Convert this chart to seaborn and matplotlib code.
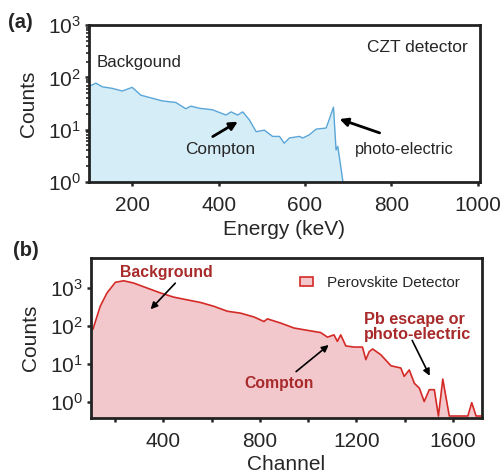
import numpy as np
import pandas as pd
import matplotlib
matplotlib.use("Agg")
import matplotlib.pyplot as plt
import seaborn as sns
from matplotlib.ticker import LogLocator, MultipleLocator, NullFormatter
from matplotlib.patches import Patch

# ---- data: panel (a) CZT detector ----
czt_energy = [100, 116, 131, 154, 177, 200, 220, 247, 270, 301, 324, 336, 355, 386,
              417, 429, 444, 456, 471, 487, 506, 525, 541, 552, 564, 587, 595, 610,
              626, 649, 656, 666, 672, 676, 688]
czt_log_counts = [1.83, 1.89, 1.82, 1.79, 1.74, 1.81, 1.66, 1.60, 1.55, 1.52, 1.40, 1.45,
                  1.41, 1.38, 1.28, 1.34, 1.28, 1.34, 1.19, 0.96, 0.99, 0.87, 0.87, 0.74,
                  0.84, 0.87, 0.84, 0.90, 1.01, 1.03, 1.19, 1.43, 0.61, 0.68, 0.0]
czt_counts = [10 ** v for v in czt_log_counts]

# ---- data: panel (b) Perovskite detector ----
pv_channel = [100, 108, 138, 166, 201, 235, 277, 332, 388, 443, 498, 554, 609, 665, 720,
              775, 817, 831, 886, 941, 996, 1052, 1080, 1107, 1121, 1135, 1156, 1190,
              1225, 1239, 1253, 1267, 1301, 1343, 1384, 1398, 1419, 1440, 1461, 1481,
              1502, 1523, 1540, 1558, 1585, 1662, 1678, 1696, 1720]
pv_log_counts = [1.90, 1.91, 2.51, 2.86, 3.14, 3.18, 3.12, 2.99, 2.86, 2.75, 2.68, 2.61,
                 2.51, 2.38, 2.33, 2.23, 2.11, 2.18, 2.07, 1.94, 1.88, 1.82, 1.70, 1.76,
                 1.59, 1.76, 1.47, 1.44, 1.44, 1.11, 1.32, 1.39, 1.24, 0.95, 0.89, 0.67,
                 0.84, 0.49, 0.36, 0.01, 0.32, 0.32, -0.37, 0.60, -0.37, -0.37, -0.02,
                 -0.37, -0.37]
pv_counts = [10 ** v for v in pv_log_counts]

sns.set_style("ticks")
plt.rcParams['font.family'] = ['Liberation Sans', 'DejaVu Sans']
plt.rcParams['mathtext.fontset'] = 'custom'
plt.rcParams['mathtext.rm'] = 'Liberation Sans'
plt.rcParams['mathtext.it'] = 'Liberation Sans:italic'

fig = plt.figure(figsize=(5.03, 4.76), dpi=100)
ax1 = fig.add_axes([0.177, 0.618, 0.777, 0.329])
ax2 = fig.add_axes([0.181, 0.122, 0.777, 0.336])

dfa = pd.DataFrame({"Energy": czt_energy, "Counts": czt_counts})
dfb = pd.DataFrame({"Channel": pv_channel, "Counts": pv_counts})

TICK = 15
LAB = 15

# Panel (a)
ax1.fill_between(dfa["Energy"], 1e-3, dfa["Counts"], color="#d5edf7", lw=0)
sns.lineplot(data=dfa, x="Energy", y="Counts", ax=ax1, color="#5aa5d8", lw=1.0)
ax1.set_yscale("log")
ax1.set_xlim(100, 1005)
ax1.set_ylim(1, 1000)
ax1.set_xticks([200, 400, 600, 800, 1000])
ax1.yaxis.set_major_locator(LogLocator(base=10, numticks=10))
ax1.yaxis.set_minor_locator(LogLocator(base=10, subs=np.arange(2, 10), numticks=10))
ax1.yaxis.set_minor_formatter(NullFormatter())
ax1.set_xlabel("Energy (keV)", fontsize=LAB, labelpad=4)
ax1.set_ylabel("Counts", fontsize=LAB, labelpad=7)
ax1.tick_params(axis="x", labelsize=TICK, width=1.8, length=3, direction="out", pad=7)
ax1.tick_params(axis="y", labelsize=TICK, width=1.8, length=3, direction="out", pad=3)
ax1.tick_params(axis="y", which="minor", width=1.2, length=2)
for s in ax1.spines.values():
    s.set_linewidth(2)
    s.set_color("#222222")

ax1.text(117, 10 ** 2.28, "Backgound", fontsize=12.2, ha="left", va="center")
ax1.text(976, 10 ** 2.58, "CZT detector", fontsize=12.5, ha="right", va="center")
ax1.text(404, 10 ** 0.62, "Compton", fontsize=12.4, ha="center", va="center")
ax1.text(830, 10 ** 0.62, "photo-electric", fontsize=11.8, ha="center", va="center")
ax1.annotate("", xy=(450, 10 ** 1.18), xytext=(381, 10 ** 0.84),
             arrowprops=dict(arrowstyle="-|>", color="black", lw=2, mutation_scale=12))
ax1.annotate("", xy=(674, 10 ** 1.22), xytext=(779, 10 ** 0.92),
             arrowprops=dict(arrowstyle="-|>", color="black", lw=2, mutation_scale=12))

# Panel (b)
ax2.fill_between(dfb["Channel"], 1e-3, dfb["Counts"], color="#f2c8cd", lw=0)
sns.lineplot(data=dfb, x="Channel", y="Counts", ax=ax2, color="#d42a26", lw=1.2)
ax2.set_yscale("log")
ax2.set_xlim(100, 1720)
ax2.set_ylim(0.38, 6000)
ax2.xaxis.set_major_locator(MultipleLocator(400))
ax2.xaxis.set_minor_locator(MultipleLocator(200))
ax2.yaxis.set_major_locator(LogLocator(base=10, numticks=10))
ax2.yaxis.set_minor_locator(LogLocator(base=10, subs=[], numticks=10))
ax2.set_xlabel("Channel", fontsize=LAB, labelpad=3)
ax2.set_ylabel("Counts", fontsize=LAB, labelpad=7)
ax2.tick_params(axis="x", which="both", labelsize=TICK, width=1.8, length=3,
                direction="out", pad=7)
ax2.tick_params(axis="y", which="both", labelsize=TICK, width=1.8, length=3,
                direction="out", pad=3)
for s in ax2.spines.values():
    s.set_linewidth(2)
    s.set_color("#222222")

ax2.legend(handles=[Patch(facecolor="#f2c8cd", edgecolor="#d42a26", lw=1.2,
                          label="Perovskite Detector")],
           loc="center left", frameon=False, fontsize=11,
           bbox_to_anchor=(0.535, 0.844), borderpad=0, borderaxespad=0,
           handlelength=0.85, handleheight=0.5, handletextpad=0.9)

red = "#a82a2a"
ax2.text(412, 10 ** 3.39, "Background", fontsize=11.4, color=red, fontweight="bold",
         ha="center", va="center")
ax2.text(879, 10 ** 0.49, "Compton", fontsize=11.3, color=red, fontweight="bold",
         ha="center", va="center")
ax2.text(1231, 10 ** 1.97, "Pb escape or\nphoto-electric", fontsize=11.7, color=red,
         fontweight="bold", ha="left", va="center", linespacing=1.05)
ax2.annotate("", xy=(339, 10 ** 2.38), xytext=(457, 10 ** 3.17),
             arrowprops=dict(arrowstyle="-|>", color="black", lw=1.2, mutation_scale=10))
ax2.annotate("", xy=(1094, 10 ** 1.54), xytext=(941, 10 ** 0.75),
             arrowprops=dict(arrowstyle="-|>", color="black", lw=1.2, mutation_scale=10))
ax2.annotate("", xy=(1509, 10 ** 0.62), xytext=(1426, 10 ** 1.68),
             arrowprops=dict(arrowstyle="-|>", color="black", lw=1.2, mutation_scale=10))

fig.text(0.016, 0.952, "(a)", fontsize=14.5, fontweight="bold", ha="left", va="center")
fig.text(0.026, 0.473, "(b)", fontsize=14.5, fontweight="bold", ha="left", va="center")

fig.savefig("out.png", dpi=100)
